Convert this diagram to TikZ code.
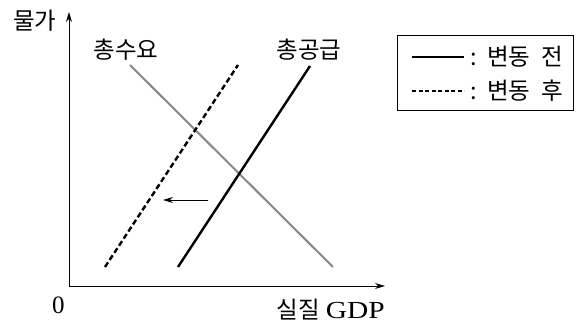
\documentclass[tikz,border=0pt]{standalone}
\usepackage{fontspec}
\setmainfont{Liberation Serif}
\newfontfamily\kofont{Noto Sans CJK KR}
\usetikzlibrary{arrows.meta,positioning}
\definecolor{adGray}{RGB}{135,135,135}
\definecolor{lineBlack}{RGB}{0,0,0}

\begin{document}
\begin{tikzpicture}[x=1pt, y=-1pt, every node/.style={font=\kofont\fontsize{23.5}{24}\selectfont, inner sep=0pt}]
    \useasboundingbox (0,0) rectangle (582,326);

    % axes
    \coordinate (origin) at (69,286);
    \coordinate (ytip) at (69,12);
    \coordinate (xtip) at (385,286);
    \draw[-{Stealth[length=10pt,width=6pt]}, line width=0.9pt, color=lineBlack] (origin)--(ytip);
    \draw[-{Stealth[length=10pt,width=6pt]}, line width=0.9pt, color=lineBlack] (origin)--(xtip);
    \node (price) at (35,21) {물가};
    \node[font=\fontsize{25}{25}\selectfont] (zero) at (58.5,305) {0};
    \node[anchor=east] (gdp) at (385,310) {실질\hspace{6pt}\fontspec{Liberation Serif}\fontsize{24.5}{25}\selectfont\scalebox{1.2}[1]{GDP}};

    % curves
    \coordinate (adTop) at (130,65);
    \coordinate (adBot) at (333,267);
    \coordinate (asBot) at (178,267);
    \coordinate (asTop) at (310,66);
    \coordinate (asNewBot) at (105,267);
    \coordinate (asNewTop) at (238,65);
    \draw[line width=2pt, color=adGray] (adTop)--(adBot);
    \draw[line width=2.4pt, color=lineBlack] (asBot)--(asTop);
    \draw[line width=2.4pt, color=lineBlack, dash pattern=on 5.5pt off 3pt] (asNewBot)--(asNewTop);
    \node (ad) at (126,50) {총수요};
    \node (as) at (309,50) {총공급};

    % shift arrow
    \coordinate (shiftStart) at (208,200);
    \coordinate (shiftEnd) at (163,200);
    \draw[-{Stealth[length=10pt,width=6pt]}, line width=0.9pt] (shiftStart)--(shiftEnd);

    % legend
    \node[draw, line width=0.9pt, minimum width=176pt, minimum height=75pt] (legend) at (485,72.5) {};
    \coordinate (solidA) at (412,57);
    \coordinate (solidB) at (464,57);
    \coordinate (dashA) at (412,91);
    \coordinate (dashB) at (464,91);
    \draw[line width=2.4pt] (solidA)--(solidB);
    \draw[line width=2pt, dash pattern=on 4pt off 2.5pt] (dashA)--(dashB);
    \node[anchor=west] (before) at (470,57) {:\ \ 변동\ \ 전};
    \node[anchor=west] (after) at (470,91) {:\ \ 변동\ \ 후};
\end{tikzpicture}
\end{document}
